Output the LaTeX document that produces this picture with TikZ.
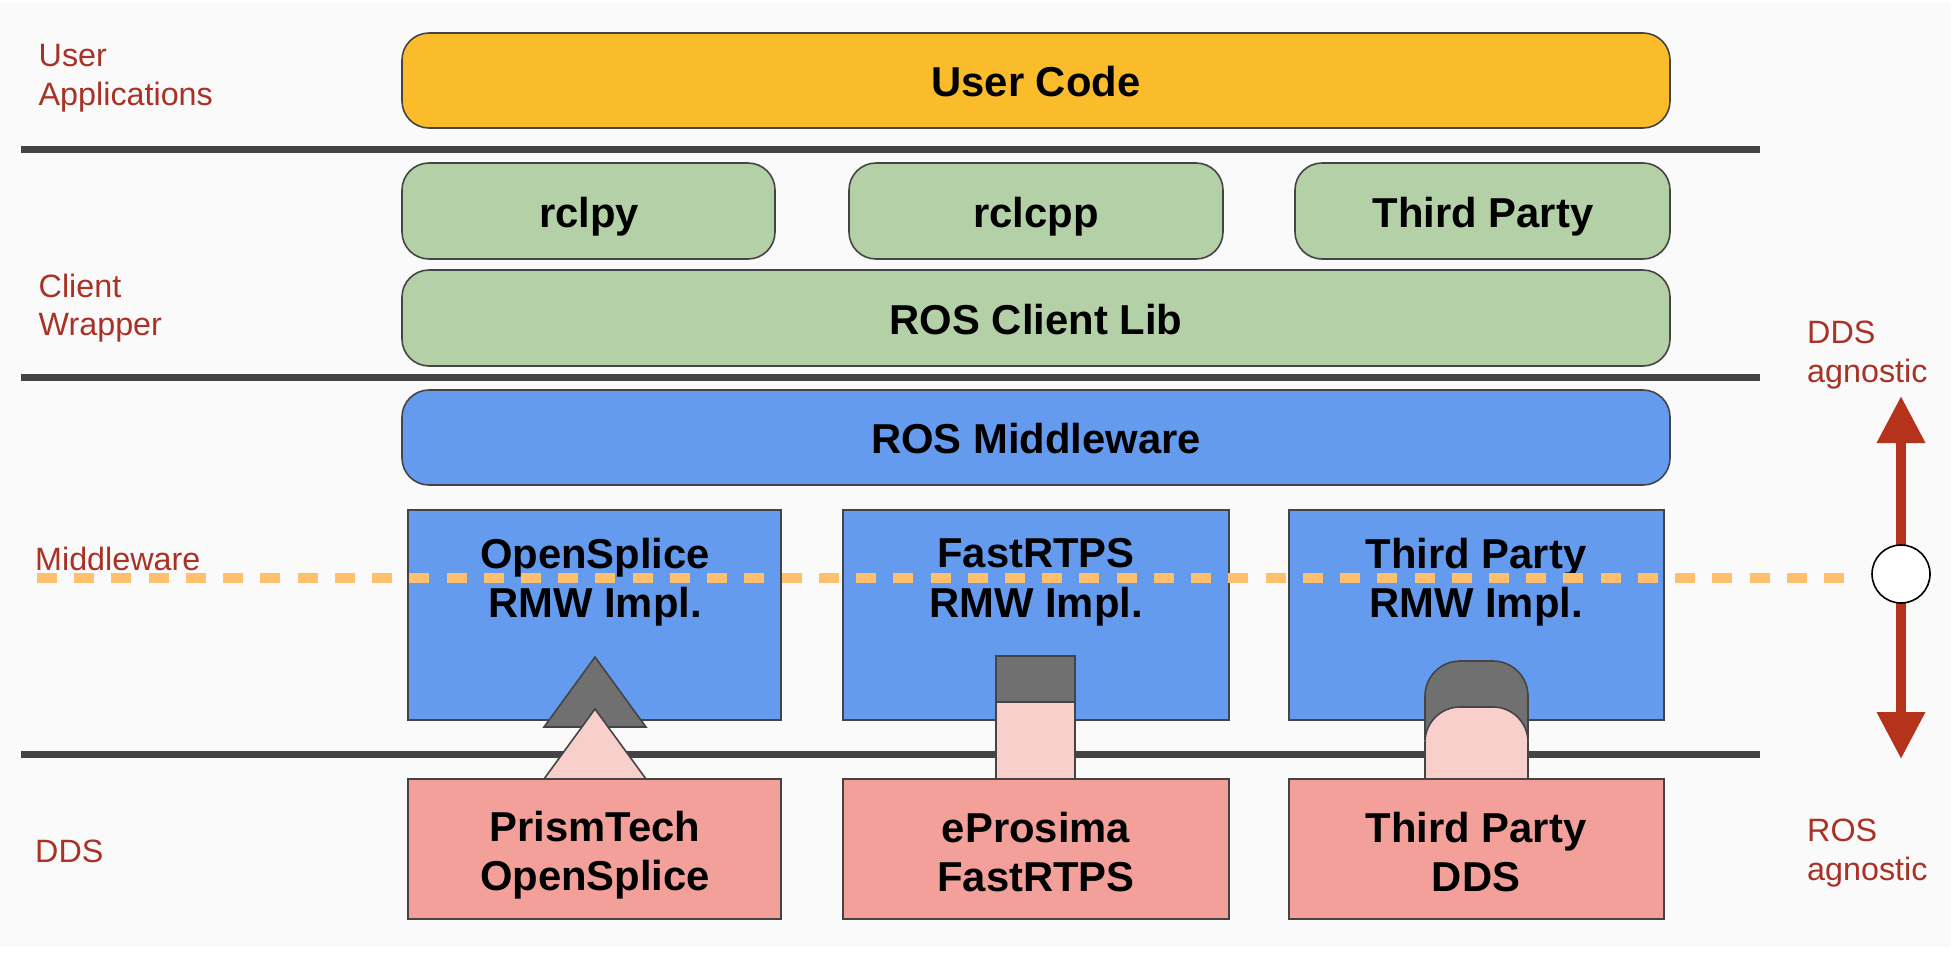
\documentclass[tikz,border=0pt]{standalone}
\usepackage{fontspec}
\setmainfont{Liberation Sans}
\usetikzlibrary{arrows.meta}
\definecolor{bgc}{HTML}{FAFAFA}
\definecolor{edgec}{HTML}{444444}
\definecolor{yel}{HTML}{FBBC2C}
\definecolor{grn}{HTML}{B4D0A6}
\definecolor{blu}{HTML}{659BEE}
\definecolor{pnk}{HTML}{F4A09A}
\definecolor{lpk}{HTML}{F9CFCC}
\definecolor{gry}{HTML}{707070}
\definecolor{redc}{HTML}{A93226}
\definecolor{arrc}{HTML}{B5321B}
\definecolor{dsh}{HTML}{FFC06E}
\tikzset{
  x=1pt,y=-1pt,
  rbox/.style={draw=edgec,line width=1.6pt,rounded corners=27pt,inner sep=0pt},
  sbox/.style={draw=edgec,line width=2pt,inner sep=0pt},
  big/.style={inner sep=0pt,align=center,font=\fontsize{41.8}{49.5}\selectfont\bfseries,text=black},
  side/.style={inner sep=0pt,anchor=west,align=left,font=\fontsize{32.3}{38.5}\selectfont,text=redc},
  sep/.style={draw=edgec,line width=7pt},
  plug/.style={draw=edgec,line width=1.6pt,line join=miter},
}
\begin{document}
\begin{tikzpicture}
\useasboundingbox (0,0) rectangle (1951,967);
\fill[bgc] (0,3) rectangle (1951,947);
% rounded boxes
\node[rbox,fill=yel,minimum width=1268pt,minimum height=95pt] (user) at (1036,80.5) {};
\node[big] (usert) at (1036,82) {User Code};
\node[rbox,fill=grn,minimum width=373pt,minimum height=96pt] (rclpy) at (588.5,211) {};
\node[big] (rclpyt) at (589,217) {rclpy};
\node[rbox,fill=grn,minimum width=374pt,minimum height=96pt] (rclcpp) at (1036,211) {};
\node[big] (rclcppt) at (1036,217) {rclcpp};
\node[rbox,fill=grn,minimum width=375pt,minimum height=96pt] (third) at (1482.5,211) {};
\node[big] (thirdt) at (1483,217) {Third Party};
\node[rbox,fill=grn,minimum width=1268pt,minimum height=96pt] (rcl) at (1036,318) {};
\node[big] (rclt) at (1036,320) {ROS Client Lib};
\node[rbox,fill=blu,minimum width=1268pt,minimum height=95pt] (rmw) at (1036,437.5) {};
\node[big] (rmwt) at (1036,439) {ROS Middleware};
% RMW boxes
\node[sbox,fill=blu,minimum width=373pt,minimum height=210pt] (a1) at (594.5,615) {};
\node[sbox,fill=blu,minimum width=386pt,minimum height=210pt] (a2) at (1036,615) {};
\node[sbox,fill=blu,minimum width=375pt,minimum height=210pt] (a3) at (1476.5,615) {};
\node[big] (a1t) at (595,582) {OpenSplice\\RMW Impl.};
\node[big] (a2t) at (1036,582) {FastRTPS\\RMW Impl.};
\node[big] (a3t) at (1476,582) {Third Party\\RMW Impl.};
% grey plugs
\draw[plug,fill=gry] (595,657) -- (646,727) -- (544,727) -- cycle;
\draw[plug,fill=gry] (996,656) rectangle (1075,705);
\draw[plug,fill=gry,rounded corners=35pt] (1425,740) -- (1425,661) -- (1528,661) -- (1528,740);
% separators
\coordinate (l1a) at (21,149.5); \coordinate (l1b) at (1760,149.5);
\coordinate (l2a) at (21,377); \coordinate (l2b) at (1760,377);
\coordinate (l3a) at (21,754); \coordinate (l3b) at (1760,754);
\draw[sep] (l1a) -- (l1b);
\draw[sep] (l2a) -- (l2b);
\draw[sep] (l3a) -- (l3b);
% pink plugs
\draw[plug,fill=lpk] (595,709) -- (646,779) -- (544,779) -- cycle;
\draw[plug,fill=lpk] (996,779) -- (996,702) -- (1075,702) -- (1075,779);
\draw[plug,fill=lpk,rounded corners=35pt] (1425,790) -- (1425,707) -- (1528,707) -- (1528,790);
% DDS boxes
\node[sbox,fill=pnk,minimum width=373pt,minimum height=140pt] (b1) at (594.5,849) {};
\node[sbox,fill=pnk,minimum width=386pt,minimum height=140pt] (b2) at (1036,849) {};
\node[sbox,fill=pnk,minimum width=375pt,minimum height=140pt] (b3) at (1476.5,849) {};
\node[big] (b1t) at (595,855) {PrismTech\\OpenSplice};
\node[big] (b2t) at (1036,852) {eProsima\\FastRTPS};
\node[big] (b3t) at (1476,852) {Third Party\\DDS};
% dashed level
\coordinate (da) at (37,578); \coordinate (db) at (1844,578);
\draw[draw=dsh,line width=9.5pt,dash pattern=on 20pt off 17.23pt] (da) -- (db);
% arrow and circle
\coordinate (top) at (1901,396); \coordinate (bot) at (1901,759);
\draw[draw=arrc,line width=10pt,{Triangle[length=47pt,width=46pt]}-{Triangle[length=47pt,width=46pt]}] (top) -- (bot);
\node[circle,draw=black,line width=1.6pt,fill=white,minimum size=58pt,inner sep=0pt] (knob) at (1901,574) {};
% side labels
\node[side] (s1) at (38.5,78) {User\\Applications};
\node[side] (s2) at (38.5,308) {Client\\Wrapper};
\node[side] (s3) at (35,559) {Middleware};
\node[side] (s4) at (35,851) {DDS};
\node[side] (s5) at (1807,355) {DDS\\agnostic};
\node[side] (s6) at (1807,853) {ROS\\agnostic};
\end{tikzpicture}
\end{document}
